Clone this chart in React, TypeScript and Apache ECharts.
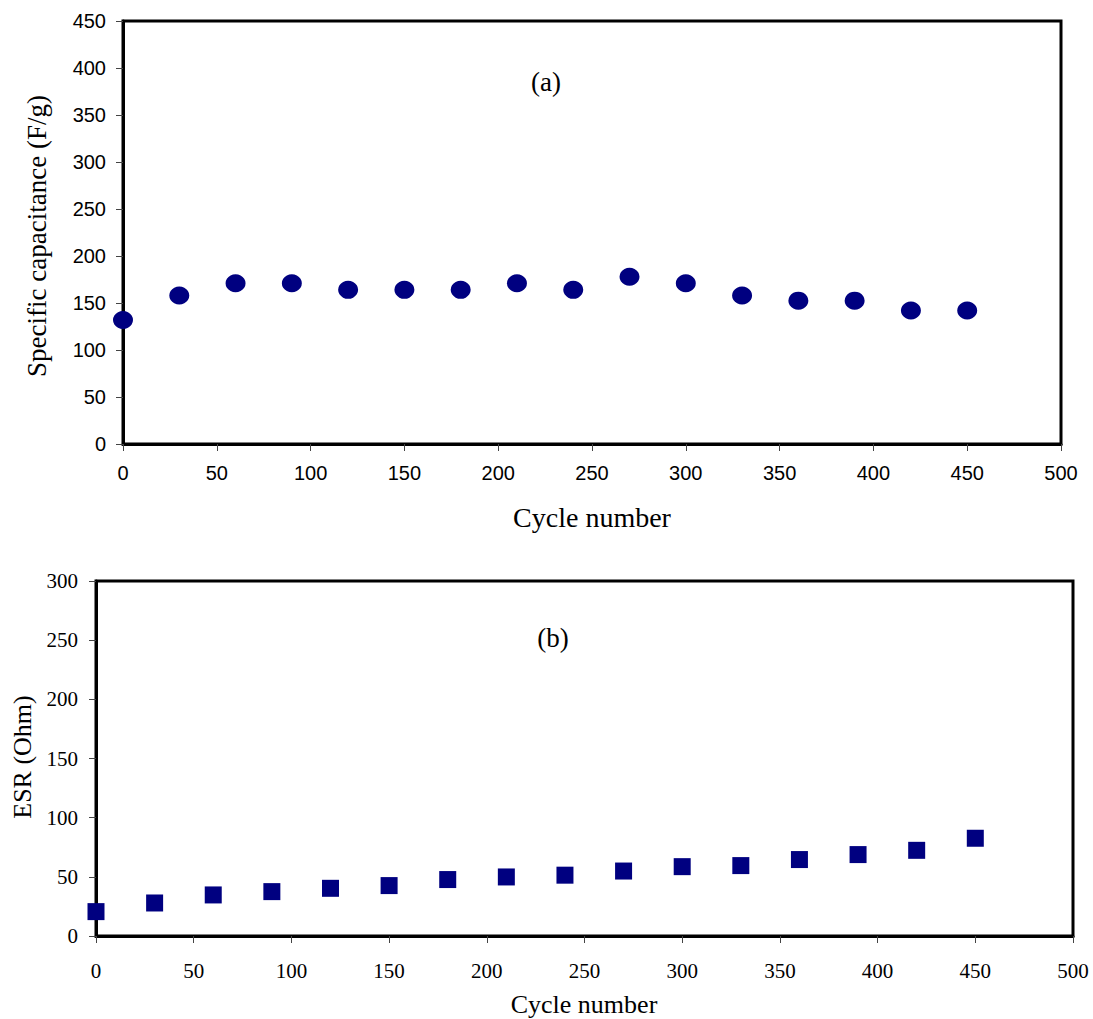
import React, { useEffect, useRef } from "react";
import * as echarts from "echarts";

const cycles = [0, 30, 60, 90, 120, 150, 180, 210, 240, 270, 300, 330, 360, 390, 420, 450];
const capacitance = [132, 158, 171, 171, 164, 164, 164, 171, 164, 178, 171, 158, 152.5, 152.5, 142, 142];
const esr = [20.6, 27.9, 34.7, 37.5, 40.3, 42.6, 47.7, 49.9, 51.4, 54.9, 58.6, 59.5, 64.6, 68.8, 72.4, 82.6];

const xTicksTop = { min: 0, max: 500, interval: 50 };
const yTicksTop = { min: 0, max: 450, interval: 50 };
const yTicksBottom = { min: 0, max: 300, interval: 50 };

const NAVY = "#000080";
const SANS = "Liberation Sans, Arial, sans-serif";
const SERIF = "Liberation Serif, Times New Roman, serif";

export default function App() {
  const ref = useRef<HTMLDivElement>(null);
  useEffect(() => {
    const chart = echarts.init(ref.current!, null, { renderer: "svg" });
    const axisLine = { show: true, lineStyle: { color: "#000", width: 3 } };
    chart.setOption({
      animation: false,
      backgroundColor: "#fff",
      grid: [
        { left: 123, top: 21, width: 938, height: 423, show: true, borderColor: "#000", borderWidth: 3, containLabel: false },
        { left: 96, top: 581, width: 977, height: 355, show: true, borderColor: "#000", borderWidth: 3, containLabel: false },
      ],
      xAxis: [
        {
          gridIndex: 0, type: "value", ...xTicksTop,
          axisLine,
          axisTick: { show: true, length: 7, lineStyle: { color: "#444", width: 1 } },
          splitLine: { show: false },
          axisLabel: { fontFamily: SANS, fontSize: 20, color: "#000", margin: 19 },
        },
        {
          gridIndex: 1, type: "value", ...xTicksTop,
          axisLine,
          axisTick: { show: true, length: 7, lineStyle: { color: "#444", width: 1 } },
          splitLine: { show: false },
          axisLabel: { fontFamily: SERIF, fontSize: 21, color: "#000", margin: 24 },
        },
      ],
      yAxis: [
        {
          gridIndex: 0, type: "value", ...yTicksTop,
          axisLine,
          axisTick: { show: true, length: 7, lineStyle: { color: "#444", width: 1 } },
          splitLine: { show: false },
          axisLabel: { fontFamily: SANS, fontSize: 20, color: "#000", margin: 17 },
        },
        {
          gridIndex: 1, type: "value", ...yTicksBottom,
          axisLine,
          axisTick: { show: true, length: 7, lineStyle: { color: "#444", width: 1 } },
          splitLine: { show: false },
          axisLabel: { fontFamily: SERIF, fontSize: 21, color: "#000", margin: 18 },
        },
      ],
      series: [
        {
          type: "scatter", xAxisIndex: 0, yAxisIndex: 0,
          data: cycles.map((c, i) => [c, capacitance[i]]),
          symbol: "circle", symbolSize: [20, 18],
          itemStyle: { color: NAVY, opacity: 1 },
        },
        {
          type: "scatter", xAxisIndex: 1, yAxisIndex: 1,
          data: cycles.map((c, i) => [c, esr[i]]),
          symbol: "rect", symbolSize: 17,
          itemStyle: { color: NAVY, opacity: 1 },
        },
      ],
      graphic: [
        { type: "text", x: 546, y: 82, style: { text: "(a)", font: `27px ${SERIF}`, fill: "#000", textAlign: "center", textVerticalAlign: "middle" } },
        { type: "text", x: 592, y: 517, style: { text: "Cycle number", font: `28px ${SERIF}`, fill: "#000", textAlign: "center", textVerticalAlign: "middle" } },
        { type: "text", x: 37, y: 236, rotation: Math.PI / 2, style: { text: "Specific capacitance (F/g)", font: `27px ${SERIF}`, fill: "#000", textAlign: "center", textVerticalAlign: "middle" } },
        { type: "text", x: 553, y: 638, style: { text: "(b)", font: `27px ${SERIF}`, fill: "#000", textAlign: "center", textVerticalAlign: "middle" } },
        { type: "text", x: 584, y: 1004, style: { text: "Cycle number", font: `26px ${SERIF}`, fill: "#000", textAlign: "center", textVerticalAlign: "middle" } },
        { type: "text", x: 22, y: 757, rotation: Math.PI / 2, style: { text: "ESR (Ohm)", font: `26px ${SERIF}`, fill: "#000", textAlign: "center", textVerticalAlign: "middle" } },
      ],
    });
    return () => chart.dispose();
  }, []);
  return <div ref={ref} style={{ position: "absolute", left: 0, top: 0, width: 1093, height: 1019 }} />;
}
